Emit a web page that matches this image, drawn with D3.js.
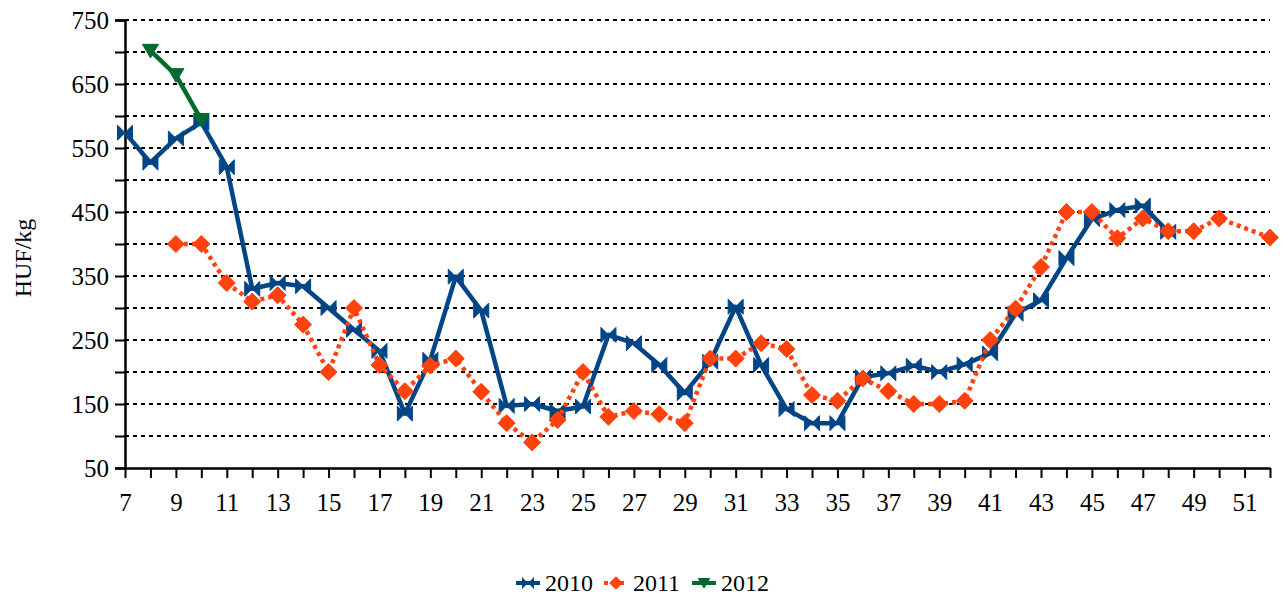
<!DOCTYPE html>
<html>
<head>
<meta charset="utf-8">
<script src="https://cdn.jsdelivr.net/npm/d3@7"></script>
</head>
<body style="margin:0">
<script>
// week numbers and prices (HUF/kg)
var weeks2010 = [7, 8, 9, 10, 11, 12, 13, 14, 15, 16, 17, 18, 19, 20, 21, 22, 23, 24, 25, 26, 27,
                 28, 29, 30, 31, 32, 33, 34, 35, 36, 37, 38, 39, 40, 41, 42, 43, 44, 45, 46, 47, 48];
var values2010 = [574, 527, 565, 590, 520, 330, 339, 334, 300, 266, 233, 135, 219, 349, 296, 147, 150, 139, 146, 258, 245,
                  211, 167, 216, 302, 211, 142, 120, 120, 192, 198, 210, 200, 212, 229, 291, 312, 378, 439, 453, 460, 419];

var weeks2011 = [9, 10, 11, 12, 13, 14, 15, 16, 17, 18, 19, 20, 21, 22, 23, 24, 25, 26, 27, 28, 29,
                 30, 31, 32, 33, 34, 35, 36, 37, 38, 39, 40, 41, 42, 43, 44, 45, 46, 47, 48, 49, 50, 52];
var values2011 = [400, 400, 339, 310, 320, 274, 200, 300, 211, 170, 210, 221, 169, 120, 90, 125, 200, 130, 139, 134, 120,
                  221, 221, 245, 236, 164, 155, 190, 170, 150, 150, 155, 250, 299, 364, 450, 450, 409, 440, 420, 420, 440, 410];

var weeks2012 = [8, 9, 10];
var values2012 = [702, 664, 594];

var yTicks = [50, 150, 250, 350, 450, 550, 650, 750];
var xTicks = [7, 9, 11, 13, 15, 17, 19, 21, 23, 25, 27, 29, 31, 33, 35, 37, 39, 41, 43, 45, 47, 49, 51];

var width = 1281, height = 599;
var margin = {left: 125, right: 11, top: 20, bottom: 131};
var font = "Liberation Serif";

var svg = d3.select("body")
    .append("svg")
    .attr("width", width)
    .attr("height", height)
    .attr("font-family", font);

var x = d3.scaleLinear().domain([7, 52]).range([margin.left, width - margin.right]);
var y = d3.scaleLinear().domain([50, 750]).range([height - margin.bottom, margin.top]);

// dotted gridlines every 50
svg.append("g")
    .selectAll("line")
    .data(d3.range(100, 751, 50))
    .enter()
        .append("line")
        .attr("x1", x(7))
        .attr("x2", x(52))
        .attr("y1", function(d) { return y(d); })
        .attr("y2", function(d) { return y(d); })
        .attr("stroke", "#000")
        .attr("stroke-width", 2)
        .attr("stroke-dasharray", "4,4");

// y axis
var yAxis = svg.append("g")
    .attr("transform", "translate(" + x(7) + ",0)")
    .call(d3.axisLeft(y).tickValues(d3.range(50, 751, 50)).tickSize(10).tickFormat(function(d) {
        return yTicks.indexOf(d) >= 0 ? d : "";
    }));
yAxis.attr("font-family", font).attr("font-size", 25);
yAxis.select(".domain").attr("stroke-width", 2.5);
yAxis.selectAll(".tick line").attr("stroke-width", 2);
yAxis.selectAll("text").attr("x", -16).attr("dy", "0.34em");

// x axis
var xAxis = svg.append("g")
    .attr("transform", "translate(0," + y(50) + ")")
    .call(d3.axisBottom(x).tickValues(d3.range(7, 53)).tickSize(10).tickSizeOuter(0).tickFormat(function(d) {
        return xTicks.indexOf(d) >= 0 ? d : "";
    }));
xAxis.attr("font-family", font).attr("font-size", 25);
xAxis.select(".domain").attr("stroke-width", 2.5);
xAxis.selectAll(".tick line").attr("stroke-width", 2);
xAxis.selectAll("text").attr("y", 25);

svg.append("text")
    .attr("transform", "translate(31,258) rotate(-90)")
    .attr("text-anchor", "middle")
    .attr("font-family", font)
    .attr("font-size", 24)
    .text("HUF/kg");

// marker shapes
function bowtie(s) {
    return "M" + (-s) + "," + (-s) + " L0,0 L" + (-s) + "," + s + " Z M" + s + "," + (-s) + " L0,0 L" + s + "," + s + " Z";
}
function diamond(s) {
    return "M0," + (-s) + " L" + s + ",0 L0," + s + " L" + (-s) + ",0 Z";
}
function triDown(s) {
    return "M" + (-s) + "," + (-s * 0.8) + " L" + s + "," + (-s * 0.8) + " L0," + (s * 0.9) + " Z";
}

var series = [
    {name: "2010", weeks: weeks2010, values: values2010, color: "#004586", dash: null, marker: bowtie(7.5)},
    {name: "2011", weeks: weeks2011, values: values2011, color: "#ff420e", dash: "4,4", marker: diamond(8.5)},
    {name: "2012", weeks: weeks2012, values: values2012, color: "#006b2f", dash: null, marker: triDown(8)}
];

var line = d3.line()
    .x(function(d) { return x(d[0]); })
    .y(function(d) { return y(d[1]); });

series.forEach(function(s) {
    var pts = d3.zip(s.weeks, s.values);
    svg.append("path")
        .datum(pts)
        .attr("d", line)
        .attr("fill", "none")
        .attr("stroke", s.color)
        .attr("stroke-width", 4.5)
        .attr("stroke-linejoin", "round")
        .attr("stroke-dasharray", s.dash);
    svg.append("g")
        .selectAll("path")
        .data(pts)
        .enter()
            .append("path")
            .attr("d", s.marker)
            .attr("transform", function(d) { return "translate(" + x(d[0]) + "," + y(d[1]) + ")"; })
            .attr("fill", s.color)
            .attr("stroke", s.color)
            .attr("stroke-width", 1);
});

// legend
var legendX = [516, 604, 692];
var legend = svg.append("g");
series.forEach(function(s, i) {
    var g = legend.append("g").attr("transform", "translate(" + legendX[i] + ",583)");
    g.append("line")
        .attr("x1", 0).attr("x2", 24)
        .attr("stroke", s.color)
        .attr("stroke-width", 4)
        .attr("stroke-dasharray", s.dash);
    g.append("path")
        .attr("d", s.marker)
        .attr("transform", "translate(12,0) scale(0.8)")
        .attr("fill", s.color);
    g.append("text")
        .attr("x", 29)
        .attr("dy", "0.34em")
        .attr("font-family", font)
        .attr("font-size", 24)
        .text(s.name);
});
</script>
</body>
</html>
